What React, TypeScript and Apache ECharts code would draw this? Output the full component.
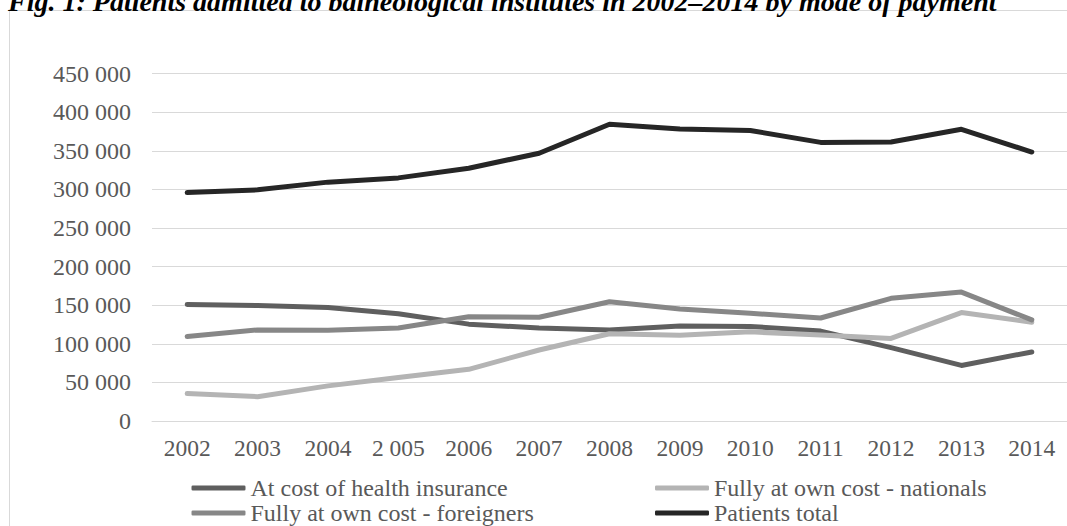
import React, { useEffect, useRef } from "react";
import * as echarts from "echarts";

const years = ["2002", "2003", "2004", "2 005", "2006", "2007", "2008", "2009", "2010", "2011", "2012", "2013", "2014"];
const healthInsurance = [151000, 149500, 147000, 139000, 125500, 120500, 118000, 123000, 122500, 116500, 95000, 72000, 89500];
const nationals = [35500, 31500, 45500, 56500, 67000, 92000, 113000, 111000, 115500, 111500, 107000, 140500, 128000];
const foreigners = [109500, 118000, 117500, 120500, 135000, 134500, 154500, 145000, 139500, 133500, 159000, 167000, 131000];
const patientsTotal = [296000, 299500, 309500, 315000, 327500, 347000, 384500, 378500, 376500, 361000, 361500, 378000, 348500];

const seriesNames = [
  "At cost of health insurance",
  "Fully at own cost - nationals",
  "Fully at own cost - foreigners",
  "Patients total",
];
const seriesColors = ["#5f5f5f", "#b4b4b4", "#878787", "#262626"];
const titleText = "Fig. 1: Patients admitted to balneological institutes in 2002\u20132014 by mode of payment";

const FONT = "Liberation Serif";

export default function App() {
  const ref = useRef<HTMLDivElement>(null);
  useEffect(() => {
    if (!ref.current) return;
    const chart = echarts.init(ref.current, null, { renderer: "svg" });
    const dataSets = [healthInsurance, nationals, foreigners, patientsTotal];
    const legendPos = [
      { left: 191.5, top: 476 },
      { left: 655, top: 476 },
      { left: 191.5, top: 501 },
      { left: 655, top: 501 },
    ];
    chart.setOption({
      animation: false,
      backgroundColor: "#ffffff",
      textStyle: { fontFamily: FONT },
      graphic: [
        {
          type: "rect",
          shape: { x: 9.5, y: 10.5, width: 1100, height: 600 },
          style: { fill: "none", stroke: "#d9d9d9", lineWidth: 1 },
          silent: true,
        },
        {
          type: "text",
          x: 8,
          y: 1.5,
          style: {
            text: titleText,
            fontFamily: FONT,
            fontSize: 28,
            fontWeight: "bold",
            fontStyle: "italic",
            fill: "#000000",
            verticalAlign: "middle",
            align: "left",
          },
        },
      ],
      legend: seriesNames.map((n, i) => ({
        data: [n],
        left: legendPos[i].left,
        top: legendPos[i].top,
        padding: 0,
        itemWidth: 54,
        itemHeight: 5,
        selectedMode: false,
        icon: "roundRect",
        textStyle: { fontFamily: FONT, fontSize: 24, color: "#595959" },
      })),
      grid: { left: 152, right: -14, top: 73.7, bottom: 105, containLabel: false },
      xAxis: {
        type: "category",
        data: years,
        boundaryGap: true,
        axisLine: { show: true, lineStyle: { color: "#d9d9d9", width: 1 } },
        axisTick: { show: false },
        axisLabel: { color: "#595959", fontSize: 23.5, fontFamily: FONT, margin: 15, interval: 0 },
      },
      yAxis: {
        type: "value",
        min: 0,
        max: 450000,
        interval: 50000,
        axisLine: { show: false },
        axisTick: { show: false },
        splitLine: { lineStyle: { color: "#d9d9d9", width: 1 } },
        axisLabel: {
          color: "#595959",
          fontSize: 24,
          fontFamily: FONT,
          margin: 21,
          formatter: (v: number) => String(v).replace(/\B(?=(\d{3})+(?!\d))/g, " "),
        },
      },
      series: seriesNames.map((n, i) => ({
        name: n,
        type: "line",
        data: dataSets[i],
        symbol: "none",
        color: seriesColors[i],
        lineStyle: { width: 5, color: seriesColors[i], cap: "round", join: "round" },
      })),
    });
    return () => chart.dispose();
  }, []);
  return (
    <div
      ref={ref}
      style={{ position: "absolute", left: 0, top: 0, width: 1067, height: 526 }}
    />
  );
}
